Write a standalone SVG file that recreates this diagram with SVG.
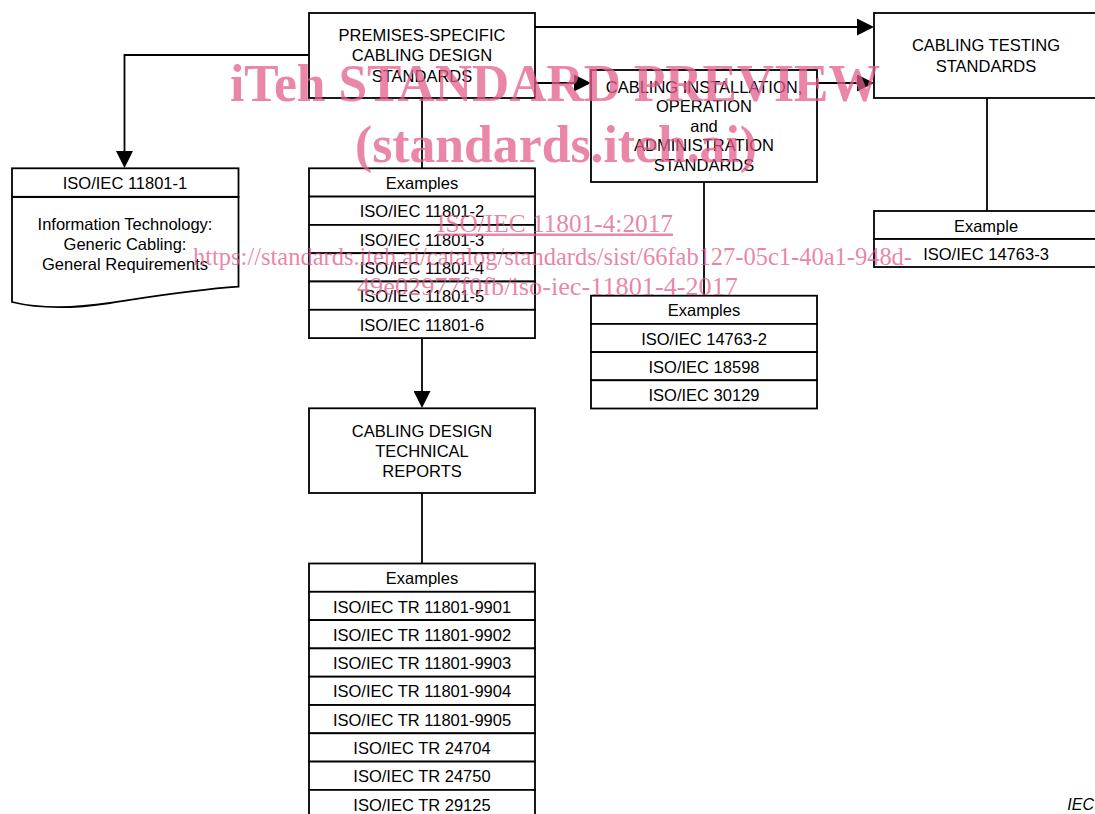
<svg xmlns="http://www.w3.org/2000/svg" width="1095" height="814" viewBox="0 0 1095 814">
<defs>
<marker id="arr" markerUnits="userSpaceOnUse" markerWidth="17" markerHeight="17" refX="9" refY="8.5" orient="auto">
<path d="M0,0 L17,8.5 L0,17 z" fill="#000"/>
</marker>
<style>
.b{fill:#fff;stroke:#000;stroke-width:1.8}
.c{fill:none;stroke:#000;stroke-width:1.8}
.t{font-family:"Liberation Sans",Arial,sans-serif;font-size:16.5px;fill:#000;text-anchor:middle}
.w{font-family:"Liberation Serif","Times New Roman",serif;fill:#e35d8a;fill-opacity:0.75;text-anchor:middle}
</style>
</defs>
<rect width="1095" height="814" fill="#fff"/>

<g id="connectors">
<path class="c" d="M309,55 H124.5 V160" marker-end="url(#arr)"/>
<path class="c" d="M422,98 V168.3"/>
<path class="c" d="M422,338 V400" marker-end="url(#arr)"/>
<path class="c" d="M422,493 V563.5"/>
<path class="c" d="M535,27 H866" marker-end="url(#arr)"/>
<path class="c" d="M535,83 H583" marker-end="url(#arr)"/>
<path class="c" d="M817,83 H866" marker-end="url(#arr)"/>
<path class="c" d="M704,182 V295.7"/>
<path class="c" d="M987,98 V211"/>
</g>

<g id="premises">
<rect class="b" x="309" y="13" width="226" height="85"/>
<text class="t" x="422" y="41">PREMISES-SPECIFIC</text>
<text class="t" x="422" y="61.3">CABLING DESIGN</text>
<text class="t" x="422" y="81.5">STANDARDS</text>
</g>

<g id="testing">
<rect class="b" x="874" y="13" width="226" height="85"/>
<text class="t" x="986" y="51.3">CABLING TESTING</text>
<text class="t" x="986" y="71.5">STANDARDS</text>
</g>

<g id="installation">
<rect class="b" x="591" y="70" width="226" height="112"/>
<text class="t" x="704" y="92.8">CABLING INSTALLATION,</text>
<text class="t" x="704" y="112.3">OPERATION</text>
<text class="t" x="704" y="131.8">and</text>
<text class="t" x="704" y="151.3">ADMINISTRATION</text>
<text class="t" x="704" y="170.8">STANDARDS</text>
</g>

<g id="iso11801-1">
<path class="b" d="M12,197 H238.5 V286.7 C190,290 150,297 110,303 C70,309 40,309 12,302 Z"/>
<rect class="b" x="12" y="168.3" width="226.5" height="28.5"/>
<text class="t" x="125" y="189.3">ISO/IEC 11801-1</text>
<text class="t" x="125" y="229.5">Information Technology:</text>
<text class="t" x="125" y="249.5">Generic Cabling:</text>
<text class="t" x="125" y="269.5">General Requirements</text>
</g>

<g id="design-examples">
<rect class="b" x="309" y="168.3" width="226" height="28.3"/>
<rect class="b" x="309" y="196.6" width="226" height="28.3"/>
<rect class="b" x="309" y="224.9" width="226" height="28.3"/>
<rect class="b" x="309" y="253.2" width="226" height="28.3"/>
<rect class="b" x="309" y="281.5" width="226" height="28.3"/>
<rect class="b" x="309" y="309.8" width="226" height="28.3"/>
<text class="t" x="422" y="189">Examples</text>
<text class="t" x="422" y="217.3">ISO/IEC 11801-2</text>
<text class="t" x="422" y="245.6">ISO/IEC 11801-3</text>
<text class="t" x="422" y="273.9">ISO/IEC 11801-4</text>
<text class="t" x="422" y="302.2">ISO/IEC 11801-5</text>
<text class="t" x="422" y="330.5">ISO/IEC 11801-6</text>
</g>

<g id="installation-examples">
<rect class="b" x="591" y="295.7" width="226" height="28.2"/>
<rect class="b" x="591" y="323.9" width="226" height="28.2"/>
<rect class="b" x="591" y="352.1" width="226" height="28.2"/>
<rect class="b" x="591" y="380.3" width="226" height="28.2"/>
<text class="t" x="704" y="316.4">Examples</text>
<text class="t" x="704" y="344.6">ISO/IEC 14763-2</text>
<text class="t" x="704" y="372.8">ISO/IEC 18598</text>
<text class="t" x="704" y="401">ISO/IEC 30129</text>
</g>

<g id="testing-example">
<rect class="b" x="874" y="211" width="226" height="28"/>
<rect class="b" x="874" y="239" width="226" height="28"/>
<text class="t" x="986" y="231.7">Example</text>
<text class="t" x="986" y="259.7">ISO/IEC 14763-3</text>
</g>

<g id="technical-reports">
<rect class="b" x="309" y="408.3" width="226" height="84.7"/>
<text class="t" x="422" y="436.5">CABLING DESIGN</text>
<text class="t" x="422" y="456.5">TECHNICAL</text>
<text class="t" x="422" y="476.5">REPORTS</text>
</g>

<g id="report-examples">
<rect class="b" x="309" y="563.5" width="226" height="28.3"/>
<rect class="b" x="309" y="591.8" width="226" height="28.3"/>
<rect class="b" x="309" y="620.1" width="226" height="28.3"/>
<rect class="b" x="309" y="648.4" width="226" height="28.3"/>
<rect class="b" x="309" y="676.7" width="226" height="28.3"/>
<rect class="b" x="309" y="705" width="226" height="28.3"/>
<rect class="b" x="309" y="733.3" width="226" height="28.3"/>
<rect class="b" x="309" y="761.6" width="226" height="28.3"/>
<rect class="b" x="309" y="789.9" width="226" height="28.3"/>
<text class="t" x="422" y="584.2">Examples</text>
<text class="t" x="422" y="612.5">ISO/IEC TR 11801-9901</text>
<text class="t" x="422" y="640.8">ISO/IEC TR 11801-9902</text>
<text class="t" x="422" y="669.1">ISO/IEC TR 11801-9903</text>
<text class="t" x="422" y="697.4">ISO/IEC TR 11801-9904</text>
<text class="t" x="422" y="725.7">ISO/IEC TR 11801-9905</text>
<text class="t" x="422" y="754">ISO/IEC TR 24704</text>
<text class="t" x="422" y="782.3">ISO/IEC TR 24750</text>
<text class="t" x="422" y="810.6">ISO/IEC TR 29125</text>
</g>

<text x="1094" y="810" font-family="Liberation Sans,Arial,sans-serif" font-size="16" font-style="italic" text-anchor="end">IEC</text>

<g id="watermark">
<text class="w" x="555" y="101" font-size="52" font-weight="bold" textLength="650" lengthAdjust="spacingAndGlyphs">iTeh STANDARD PREVIEW</text>
<text class="w" x="556" y="162" font-size="52" font-weight="bold" textLength="402" lengthAdjust="spacingAndGlyphs">(standards.iteh.ai)</text>
<text class="w" x="555" y="231.5" font-size="25" text-decoration="underline" textLength="236" lengthAdjust="spacingAndGlyphs">ISO/IEC 11801-4:2017</text>
<text class="w" x="552.5" y="264.5" font-size="25" textLength="719" lengthAdjust="spacingAndGlyphs">https://standards.iteh.ai/catalog/standards/sist/66fab127-05c1-40a1-948d-</text>
<text class="w" x="547.5" y="295" font-size="25" textLength="381" lengthAdjust="spacingAndGlyphs">49e02977f0fb/iso-iec-11801-4-2017</text>
</g>
</svg>
